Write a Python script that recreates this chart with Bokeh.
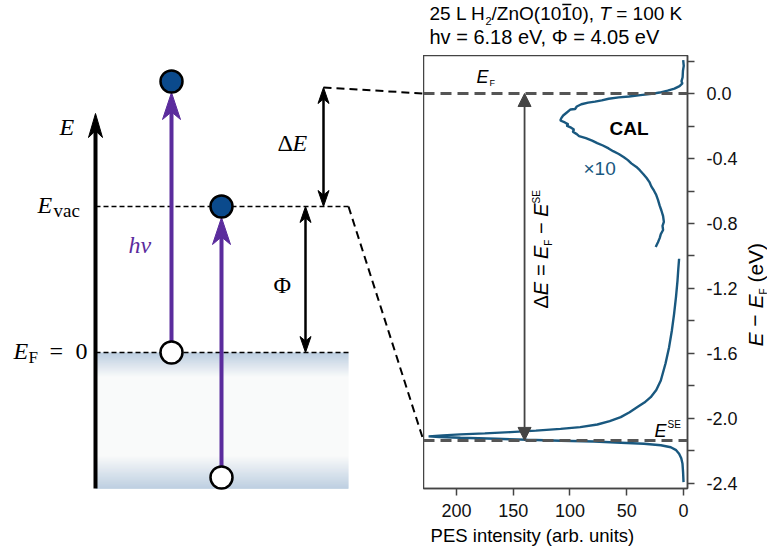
import numpy as np
from bokeh.plotting import figure
from bokeh.layouts import row, column
from bokeh.models import (Range1d, Label, Arrow, NormalHead, Span, FixedTicker,
                          PrintfTickFormatter)
from bokeh.embed import file_html
from bokeh.resources import INLINE

# ------------------------------------------------------------------ data
# CAL region (x10), PES intensity vs E - E_F (eV)
cal_intensity = [0.3, -0.2, 0.5, 0.8, 1.8, 1.0, 3.5, 8.0, 14.0, 21.0, 28.0, 38.0, 48.0,
                 57.0, 66.0, 72.0, 78.0, 84.0, 90.0, 94.0, 95.5, 99.5, 102.5, 106.0,
                 107.5, 108.5, 104.5, 101.5, 103.0, 99.0, 96.5, 97.5, 94.0, 92.0, 86.0,
                 80.5, 76.0, 71.0, 66.0, 62.0, 57.0, 52.5, 49.0, 46.0, 41.5, 38.5, 35.5,
                 32.5, 30.0, 28.5, 26.0, 24.0, 22.5, 21.0, 19.5, 18.0, 17.3, 18.5, 18.0,
                 20.0, 21.0, 22.5, 24.5]
cal_energy = [0.205, 0.17, 0.14, 0.10, 0.075, 0.062, 0.045, 0.030, 0.018, 0.006, -0.002,
              -0.010, -0.018, -0.024, -0.032, -0.042, -0.050, -0.056, -0.066, -0.080,
              -0.095, -0.098, -0.115, -0.135, -0.150, -0.166, -0.178, -0.190, -0.198,
              -0.210, -0.222, -0.235, -0.250, -0.262, -0.275, -0.290, -0.305, -0.320,
              -0.338, -0.355, -0.372, -0.392, -0.410, -0.430, -0.452, -0.472, -0.495,
              -0.520, -0.545, -0.570, -0.598, -0.625, -0.655, -0.690, -0.720, -0.755,
              -0.790, -0.815, -0.840, -0.865, -0.890, -0.915, -0.945]
# main spectrum (secondary edge)
spec_intensity = [3.9, 4.6, 5.3, 6.6, 8.3, 10.3, 12.7, 15.8, 20.0, 24.0, 28.9, 34.5, 40.6,
                  47.5, 55.3, 65.0, 75.9, 91.0, 108.3, 130.0, 152.4, 175.0, 196.5, 212.0,
                  224.5, 215.0, 196.5, 165.0, 137.6, 108.0, 78.9, 55.0, 34.8, 20.0, 11.2,
                  6.5, 3.9, 2.0, 0.9, 0.4, 0.0]
spec_energy = [-1.017, -1.08, -1.151, -1.25, -1.356, -1.46, -1.561, -1.66, -1.766, -1.825,
               -1.869, -1.902, -1.930, -1.962, -1.992, -2.016, -2.037, -2.053, -2.064,
               -2.075, -2.084, -2.092, -2.098, -2.104, -2.110, -2.114, -2.119, -2.125,
               -2.131, -2.137, -2.142, -2.149, -2.156, -2.165, -2.177, -2.195, -2.217,
               -2.245, -2.279, -2.33, -2.392]
E_F_LINE = 0.0
E_SE_LINE = -2.135
DELTA_ARROW_X = 140
x_ticks = [0, 50, 100, 150, 200]
y_ticks = [0.0, -0.4, -0.8, -1.2, -1.6, -2.0, -2.4]
y_minor_ticks = [0.2, -0.2, -0.6, -1.0, -1.4, -1.8, -2.2]

# schematic energy-level diagram (diagram units)
AX_X, AX_BOTTOM, AX_TIP = 95, 488, 113
EVAC, EF_LVL, DE_TOP = 206, 352, 87
BAND_RIGHT = 348
PHOTON_X = [171, 221]
PHOTON_FROM = [352, 477]
PHOTON_TO = [81, 206]
DE_X, PHI_X = 323, 305

# ------------------------------------------------------------------ styles
PURPLE = "#5b2c9d"
DKBLUE = "#0b4a8c"
CURVE = "#19587f"
GRAY = "#555555"
SANS = "Liberation Sans"
SERIF = "Liberation Serif"
NB = "\u00a0"

# Arial/Liberation Sans advance widths (per 1000 em)
AW = {' ': 278, NB: 278, '(': 333, ')': 333, ',': 278, '.': 278, '/': 278, '=': 584,
      '−': 584, 'E': 667, 'F': 611, 'H': 722, 'K': 667, 'L': 556, 'O': 778, 'S': 667,
      'T': 611, 'V': 667, 'Z': 611, 'e': 556, 'h': 556, 'n': 556, 'v': 500, 'Δ': 668,
      'Φ': 778, '×': 584}
for d in "0123456789":
    AW[d] = 556


def tw(text, size):
    return sum(AW.get(c, 556) for c in text) * size / 1000.0


FRAME_TOP, FRAME_BOTTOM = 55, 488
TOTAL_H = 548
SPLIT = 423           # x of the spectrum frame's left edge
FRAME_RIGHT = 687
MID_W = 320           # spectrum figure width (frame + tick labels)
TOTAL_W = 767
XLAB_TOP = 525
ANG = np.pi / 2


def blank(width, height, xr, yr):
    f = figure(width=width, height=height, x_range=Range1d(*xr), y_range=Range1d(*yr),
               output_backend="svg", toolbar_location=None,
               x_axis_location=None, y_axis_location=None,
               min_border_left=0, min_border_right=0, min_border_top=0,
               min_border_bottom=0)
    f.grid.visible = False
    f.outline_line_color = None
    f.background_fill_color = "white"
    f.border_fill_color = "white"
    return f


def ident(v):
    return v


def lab(fig, text, px, py, size, style="normal", color="black", font=SERIF,
        align="left", angle=0.0, mx=ident, my=ident):
    """px, py: page position of the text's baseline start (pixels)."""
    if angle:
        px = px - 0.35 * size
    else:
        py = py - 0.35 * size
    fig.add_layout(Label(x=mx(px), y=my(py), text=text, text_font=font,
                         text_font_size=f"{size}px", text_font_style=style,
                         text_color=color, text_align=align, text_baseline="middle",
                         angle=angle))


# ------------------------------------------------------------------ title strip
title = blank(TOTAL_W, FRAME_TOP, (0, TOTAL_W), (FRAME_TOP, 0))
ts = 19
x = 429
lab(title, "25 L H", x, 20, ts, font=SANS); x += tw("25 L H", ts)
lab(title, "2", x, 24, 11, font=SANS); x += tw("2", 11)
lab(title, "/ZnO(10", x, 20, ts, font=SANS); x += tw("/ZnO(10", ts)
lab(title, "1", x, 20, ts, font=SANS)
title.line([x + 1, x + tw("1", ts) - 0.5], [4.0, 4.0], line_color="black", line_width=1.3)
x += tw("1", ts)
lab(title, "0),", x, 20, ts, font=SANS); x += tw("0), ", ts)
lab(title, "T", x, 20, ts, "italic", font=SANS); x += tw("T", ts)
lab(title, NB + "= 100 K", x, 20, ts, font=SANS)
lab(title, "hv = 6.18 eV, Φ = 4.05 eV", 429, 43, 20, font=SANS)

# ------------------------------------------------------------------ left: schematic
BODY_H = TOTAL_H - FRAME_TOP
left = blank(SPLIT, BODY_H, (0, SPLIT), (TOTAL_H, FRAME_TOP))

# band gradient
blue = np.array([0xb3, 0xc7, 0xdc], dtype=float)
white = np.array([0xf8, 0xf9, 0xf9], dtype=float)
tops, bots, cols = [], [], []
for yy in range(EF_LVL, AX_BOTTOM):
    f = max(0.0, 1 - (yy - EF_LVL) / 24.0, (yy - 455) / 33.0)
    f = min(f, 1.0)
    c = white * (1 - f) + blue * f
    tops.append(yy)
    bots.append(yy + 1.2)
    cols.append("#%02x%02x%02x" % tuple(int(round(v)) for v in c))
left.quad(left=AX_X, right=BAND_RIGHT, top=tops, bottom=bots, fill_color=cols,
          line_color=None)

# level lines
left.line([AX_X, BAND_RIGHT], [EVAC, EVAC], line_color="black", line_width=1.4,
          line_dash="5 3")
left.line([AX_X, BAND_RIGHT], [EF_LVL, EF_LVL], line_color="black", line_width=1.4,
          line_dash="5 3")
# connectors to spectrum
left.line([BAND_RIGHT, SPLIT], [EVAC, 440], line_color="black", line_width=2,
          line_dash="8 5")
left.line([DE_X, SPLIT], [DE_TOP, 93], line_color="black", line_width=2, line_dash="8 5")


def head(x, tip, up, w, L):
    s = 1 if up else -1
    return [x, x + w / 2, x, x - w / 2], [tip, tip + s * L, tip + s * 0.72 * L, tip + s * L]


# energy axis
left.line([AX_X, AX_X], [AX_BOTTOM, AX_TIP + 14], line_color="black", line_width=4)
hx, hy = head(AX_X, AX_TIP, True, 14, 24)
left.patch(hx, hy, fill_color="black", line_color="black", line_width=1)

# photon arrows
for px, y0, y1 in zip(PHOTON_X, PHOTON_FROM, PHOTON_TO):
    tip = y1 + 11
    left.line([px, px], [y0 - 10, tip + 18], line_color=PURPLE, line_width=4)
    hx, hy = head(px, tip, True, 18, 27)
    left.patch(hx, hy, fill_color=PURPLE, line_color=PURPLE, line_width=1)

# double arrows (delta E and Phi)
for xx, ytop, ybot in [(DE_X, DE_TOP, EVAC), (PHI_X, EVAC, EF_LVL)]:
    left.line([xx, xx], [ytop + 10, ybot - 10], line_color="black", line_width=2.5)
    hx, hy = head(xx, ytop, True, 11, 16)
    left.patch(hx, hy, fill_color="black", line_color="black")
    hx, hy = head(xx, ybot, False, 11, 16)
    left.patch(hx, hy, fill_color="black", line_color="black")

# electrons and holes
left.scatter(PHOTON_X, PHOTON_TO, size=22, fill_color=DKBLUE, line_color="black",
             line_width=2.5)
left.scatter(PHOTON_X, PHOTON_FROM, size=22, fill_color="white", line_color="black",
             line_width=2.5)

lab(left, "E", 59, 135, 24, "italic")
lab(left, "E", 37, 213, 24, "italic")
lab(left, "vac", 53, 217, 19)
lab(left, "E", 13, 359, 24, "italic")
lab(left, "F", 28, 363, 17)
lab(left, "=", 49, 359, 24)
lab(left, "0", 75, 359, 24)
lab(left, "hν", 128, 253, 24, "italic", color=PURPLE)
lab(left, "Δ", 277, 151, 24)
lab(left, "E", 292, 151, 24, "italic")
lab(left, "Φ", 273, 293, 24)

# ------------------------------------------------------------------ right: spectrum
right = figure(width=MID_W, height=XLAB_TOP - FRAME_TOP, x_range=Range1d(229, -3.5),
               y_range=Range1d(-2.431, 0.234), output_backend="svg",
               toolbar_location=None, y_axis_location="right",
               min_border_left=0, min_border_right=MID_W - (FRAME_RIGHT - SPLIT),
               min_border_top=0, min_border_bottom=XLAB_TOP - FRAME_BOTTOM)
right.grid.visible = False
right.outline_line_color = "#444444"
right.outline_line_width = 1.5
right.background_fill_color = "white"
right.border_fill_color = "white"

right.xaxis.ticker = FixedTicker(ticks=x_ticks)
right.yaxis.ticker = FixedTicker(ticks=y_ticks, minor_ticks=y_minor_ticks)
right.yaxis.formatter = PrintfTickFormatter(format="%.1f")
for ax in (right.xaxis[0], right.yaxis[0]):
    ax.axis_line_color = "#444444"
    ax.axis_line_width = 1.5
    ax.major_tick_line_color = "#444444"
    ax.major_tick_line_width = 1.5
    ax.minor_tick_line_color = "#444444"
    ax.minor_tick_line_width = 1.5
    ax.major_tick_in = 0
    ax.major_tick_out = 7
    ax.minor_tick_in = 0
    ax.minor_tick_out = 7
    ax.major_label_text_font = SANS
    ax.major_label_text_font_size = "18px"
    ax.major_label_text_color = "#111111"
right.xaxis.major_label_standoff = 8
right.yaxis.major_label_standoff = 12

right.add_layout(Span(location=E_F_LINE, dimension="width", line_color=GRAY,
                      line_width=3, line_dash="11 6"))
right.add_layout(Span(location=E_SE_LINE, dimension="width", line_color=GRAY,
                      line_width=3, line_dash="11 6"))

right.line(cal_intensity, cal_energy, line_color=CURVE, line_width=2.4)
right.line(spec_intensity, spec_energy, line_color=CURVE, line_width=2.4)

right.add_layout(Arrow(x_start=DELTA_ARROW_X, y_start=E_F_LINE, x_end=DELTA_ARROW_X,
                       y_end=E_SE_LINE, line_color="#444444", line_width=1.8,
                       start=NormalHead(size=13, fill_color="#444444",
                                        line_color="#444444"),
                       end=NormalHead(size=13, fill_color="#444444",
                                      line_color="#444444")))

# page-pixel -> data helpers for text placement in the right panel
RX0, RSX, RY0, RSY = 683.0, 264 / 232.5, 93.0, 433 / 2.665


def rx(px):
    return (RX0 - px) / RSX


def ry(py):
    return (RY0 - py) / RSY


def rlab(text, px, py, size, style="normal", color="black", align="left", angle=0.0):
    lab(right, text, px, py, size, style, color, SANS, align, angle, mx=rx, my=ry)


# in-plot labels
rlab("E", 476, 83, 18, "italic")
rlab("F", 489, 86, 9)
rlab("E", 654, 437, 18, "italic")
rlab("SE", 667, 427, 10)
rlab("CAL", 609, 135, 19, "bold")
rlab("×10", 583, 175, 19, color=CURVE)

# rotated Delta E label along the arrow
rs = 20
py = 308
bx = 547
rlab("Δ", bx, py, rs, angle=ANG); py -= tw("Δ", rs)
rlab("E = E", bx, py, rs, "italic", angle=ANG); py -= tw("E = E", rs)
rlab("F", bx + 4, py, 10, angle=ANG); py -= tw("F", 10) + tw(" ", rs)
rlab("−", bx, py, rs, angle=ANG); py -= tw("− ", rs)
rlab("E", bx, py, rs, "italic", angle=ANG); py -= tw("E", rs)
rlab("SE", bx - 8, py, 10, angle=ANG)

# x-axis label strip
xlab = blank(MID_W, TOTAL_H - XLAB_TOP, (SPLIT, SPLIT + MID_W), (TOTAL_H, XLAB_TOP))
lab(xlab, "PES intensity (arb. units)", 555, 541, 18.5, font=SANS, align="center")

# y-axis label strip: E - E_F (eV)
ylab = blank(TOTAL_W - SPLIT - MID_W, BODY_H, (SPLIT + MID_W, TOTAL_W),
             (TOTAL_H, FRAME_TOP))
ys = 21
bx = 762
py = 346
lab(ylab, "E", bx, py, ys, "italic", font=SANS, angle=ANG); py -= tw("E ", ys)
lab(ylab, "−", bx, py, ys, font=SANS, angle=ANG); py -= tw("− ", ys)
lab(ylab, "E", bx, py, ys, "italic", font=SANS, angle=ANG); py -= tw("E", ys)
lab(ylab, "F", bx + 4, py, 10, font=SANS, angle=ANG); py -= tw("F", 10) + tw(" ", ys)
lab(ylab, "(eV)", bx, py, ys, font=SANS, angle=ANG)

layout = column(title, row(left, column(right, xlab), ylab))
open("out.html", "w").write(file_html(layout, INLINE))
